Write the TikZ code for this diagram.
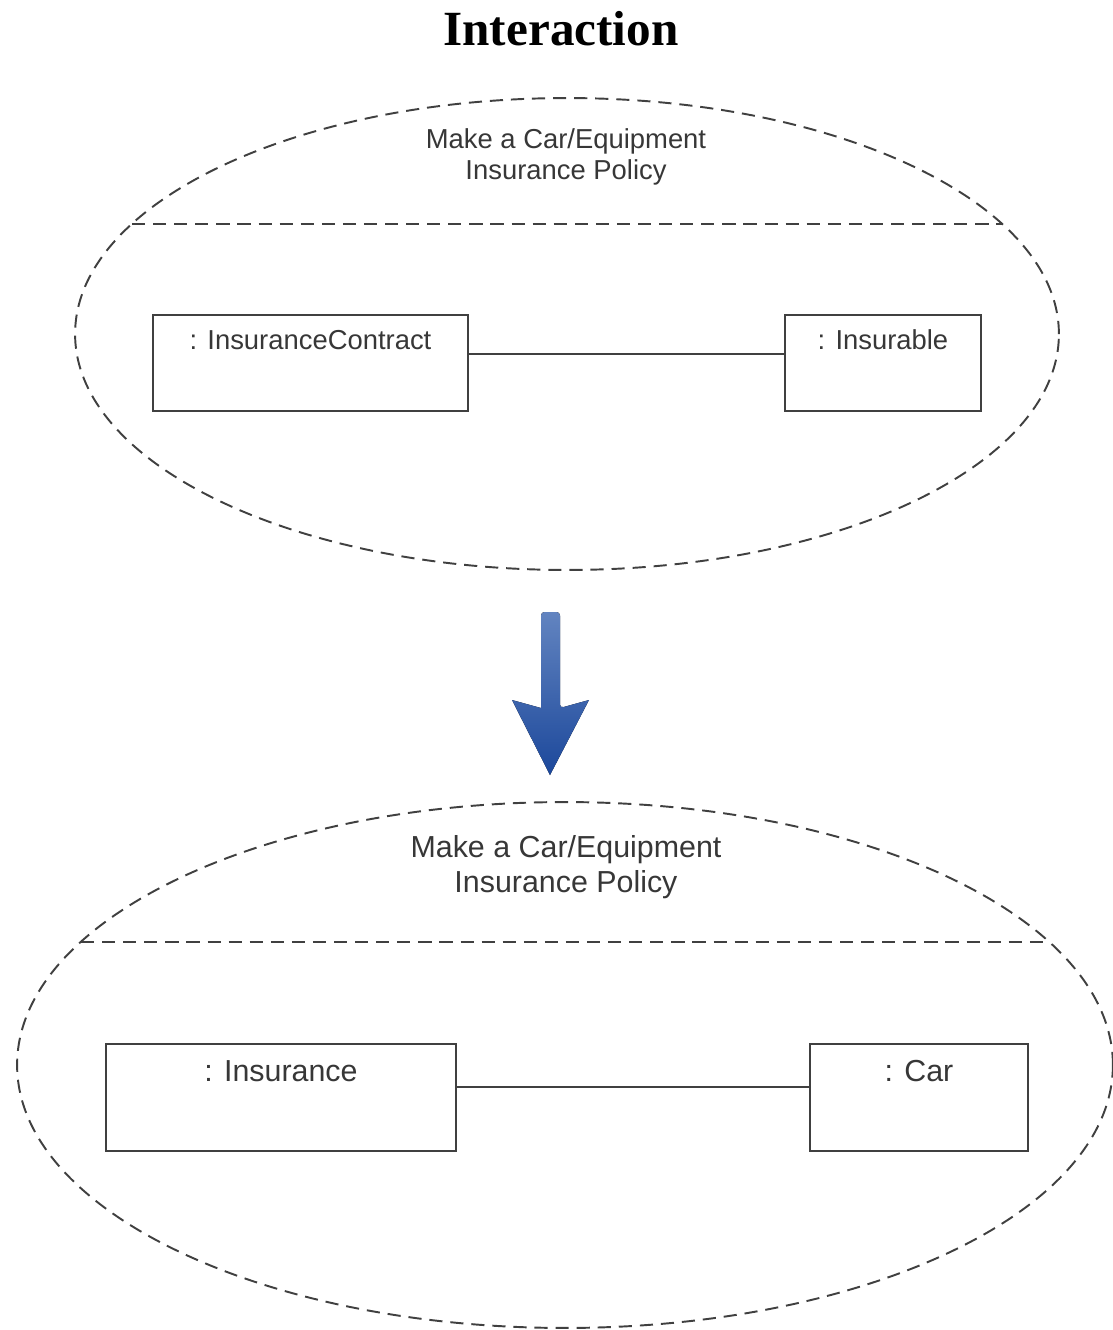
\documentclass[tikz,border=0pt]{standalone}
\usepackage{fontspec}
\setmainfont{Liberation Sans}
\newfontfamily\headfont{Liberation Serif}
\usetikzlibrary{
    shapes.geometric,
    positioning,
    calc
}
\definecolor{linegray}{RGB}{64,64,64}
\definecolor{textgray}{RGB}{55,55,55}
\definecolor{arrowtop}{RGB}{98,132,192}
\definecolor{arrowbottom}{RGB}{28,72,155}
\tikzset {
    heading/.style = {font = \headfont\bfseries\fontsize{28}{32}\selectfont, inner sep = 0pt},
    dashed line/.style = {draw = linegray, line width = 1.1pt, dash pattern = on 7.5pt off 4.5pt},
    use case/.style = {ellipse, dashed line, inner sep = 0pt},
    case text/.style 2 args = {
        align = center,
        text = textgray,
        inner sep = 0pt,
        font = \fontsize{#1}{#2}\selectfont
    },
    object/.style = {draw = linegray, line width = 1pt, inner sep = 0pt},
    link/.style = {draw = linegray, line width = 0.9pt},
    %
    big arrow/.style = {top color = arrowtop, bottom color = arrowbottom, draw = none}
}
\begin{document}
\begin{tikzpicture}[x = 0.02cm, y = -0.02cm]
    \useasboundingbox (0, 0) rectangle (1113, 1330);
    \node (title) [heading] at (561, 29) {Interaction};
    % before
    \node (before) [use case, minimum width = 19.68cm, minimum height = 9.44cm] at (567, 334) {};
    \draw [dashed line] ($ (before.center) + (-435, -110) $) -- ($ (before.center) + (435, -110) $);
    \node (beforename) [case text = {15.6}{18.1}] at (566, 157) {Make a Car/Equipment\\Insurance Policy};
    \node (contract) [object, minimum width = 6.3cm, minimum height = 1.92cm] at (310.5, 363) {};
    \node (insurable) [object, minimum width = 3.92cm, minimum height = 1.92cm] at (883, 363) {};
    \node (contracttext) [case text = {15.6}{18.1}] at ([yshift = -0.52cm]contract.north) {: InsuranceContract};
    \node (insurabletext) [case text = {15.6}{18.1}] at ([yshift = -0.52cm]insurable.north) {: Insurable};
    \draw [link] ([yshift = 0.18cm]contract.east) -- ([yshift = 0.18cm]insurable.west);
    % arrow
    \coordinate (shaftl) at (541, 708);
    \coordinate (shaftr) at (560, 708);
    \coordinate (tip) at (550, 775);
    \fill [big arrow, rounded corners = 2pt] (shaftl) -- (541, 612) -- (560, 612) -- (shaftr)
        [sharp corners] -- (589, 700) -- (tip) -- (512, 700) -- cycle;
    % after
    \node (after) [use case, minimum width = 21.92cm, minimum height = 10.52cm] at (565, 1065) {};
    \draw [dashed line] ($ (after.center) + (-484, -123) $) -- ($ (after.center) + (484, -123) $);
    \node (aftername) [case text = {17.3}{19.8}] at (566, 867.5) {Make a Car/Equipment\\Insurance Policy};
    \node (insurance) [object, minimum width = 7cm, minimum height = 2.14cm] at (281, 1097.5) {};
    \node (car) [object, minimum width = 4.36cm, minimum height = 2.14cm] at (919, 1097.5) {};
    \node (insurancetext) [case text = {17.3}{19.8}] at ([yshift = -0.56cm]insurance.north) {: Insurance};
    \node (cartext) [case text = {17.3}{19.8}] at ([yshift = -0.56cm]car.north) {: Car};
    \draw [link] ([yshift = 0.21cm]insurance.east) -- ([yshift = 0.21cm]car.west);
\end{tikzpicture}
\end{document}
